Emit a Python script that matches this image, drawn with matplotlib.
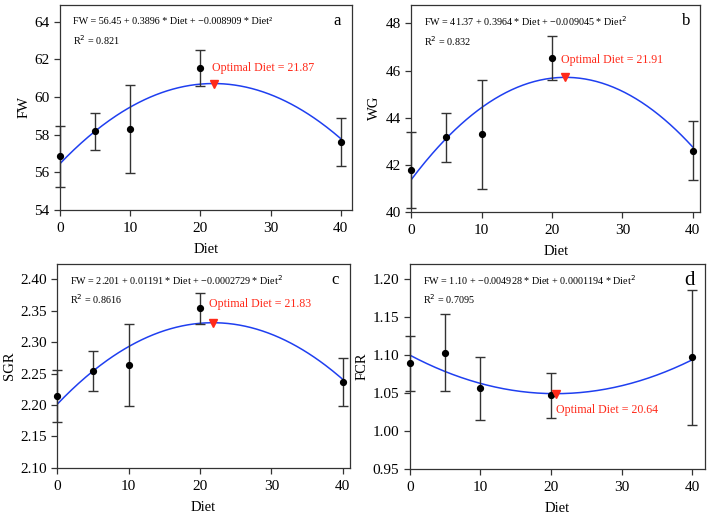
import numpy as np
import matplotlib
matplotlib.use("Agg")
import matplotlib.pyplot as plt
from matplotlib.ticker import FormatStrFormatter

plt.rcParams["font.family"] = ["Liberation Serif", "DejaVu Serif"]

diet = [0, 5, 10, 20, 40]

fw_mean = [56.85, 58.18, 58.29, 61.54, 57.61]
fw_err = [1.62, 0.98, 2.32, 0.94, 1.27]
wg_mean = [41.79, 43.16, 43.29, 46.54, 42.60]
wg_err = [1.61, 1.05, 2.31, 0.95, 1.25]
sgr_mean = [2.214, 2.254, 2.264, 2.354, 2.237]
sgr_err = [0.041, 0.032, 0.065, 0.025, 0.038]
fcr_mean = [1.089, 1.103, 1.056, 1.047, 1.097]
fcr_err = [0.036, 0.051, 0.041, 0.030, 0.089]

# quadratic fit coefficients (a0, a1, a2) and optimum
fw_coef = (56.45, 0.3896, -0.008909)
wg_coef = (41.37, 0.3964, -0.009045)
sgr_coef = (2.201, 0.01191, -0.0002729)
fcr_coef = (1.10, -0.004928, 0.0001194)
optima = [21.87, 21.91, 21.83, 20.64]

panels = [
    dict(ylabel="FW", mean=fw_mean, err=fw_err, coef=fw_coef, opt=optima[0], tag="a",
         eq="FW = 56.45 + 0.3896 * Diet + \u22120.008909 * Diet\u00b2", r2="0.821",
         pos=[0.084, 0.595, 0.409, 0.396], xlim=41.6, ylim=(54, 64.9),
         yticks=[54, 56, 58, 60, 62, 64], fmt="%d", txt=(21.6, 61.55), tagsize=12),
    dict(ylabel="WG", mean=wg_mean, err=wg_err, coef=wg_coef, opt=optima[1], tag="b",
         eq="FW = 41.37 + 0.3964 * Diet + \u22120.009045 * Diet$^2$", r2="0.832",
         pos=[0.576, 0.591, 0.405, 0.400], xlim=41.1, ylim=(40, 48.8),
         yticks=[40, 42, 44, 46, 48], fmt="%d", txt=(21.3, 46.47), tagsize=12),
    dict(ylabel="SGR", mean=sgr_mean, err=sgr_err, coef=sgr_coef, opt=optima[2], tag="c",
         eq="FW = 2.201 + 0.01191 * Diet + \u22120.0002729 * Diet$^2$", r2="0.8616",
         pos=[0.080, 0.097, 0.410, 0.394], xlim=41.0, ylim=(2.10, 2.425),
         yticks=[2.10, 2.15, 2.20, 2.25, 2.30, 2.35, 2.40], fmt="%.2f", txt=(21.25, 2.361),
         tagsize=12),
    dict(ylabel="FCR", mean=fcr_mean, err=fcr_err, coef=fcr_coef, opt=optima[3], tag="d",
         eq="FW = 1.10 + \u22120.004928 * Diet + 0.0001194 * Diet$^2$", r2="0.7095",
         pos=[0.574, 0.095, 0.413, 0.396], xlim=41.75, ylim=(0.95, 1.2207),
         yticks=[0.95, 1.00, 1.05, 1.10, 1.15, 1.20], fmt="%.2f", txt=(20.75, 1.028),
         tagsize=15),
]

fig = plt.figure(figsize=(7.14, 5.18), dpi=100)

for p in panels:
    ax = fig.add_axes(p["pos"])
    a0, a1, a2 = p["coef"]
    xs = np.linspace(0, 40, 200)
    ax.plot(xs, a0 + a1 * xs + a2 * xs ** 2, color="#1f3ff0", lw=1.1, zorder=2)
    ax.errorbar(diet, p["mean"], yerr=p["err"], fmt="o", color="black", ms=4.2,
                ecolor="#333333", elinewidth=1.0, capsize=3.4, capthick=1.0,
                clip_on=False, zorder=3)
    xo = p["opt"]
    ax.plot([xo], [a0 + a1 * xo + a2 * xo ** 2], marker="v", color="#ff2a1a", ms=6,
            zorder=4)
    ax.text(p["txt"][0], p["txt"][1], f"Optimal Diet = {xo:.2f}", color="#ff2a1a",
            fontsize=8.6, ha="left", va="center")
    ax.text(0.045, 0.92, p["eq"], transform=ax.transAxes, fontsize=7.3,
            ha="left", va="center")
    ax.text(0.045, 0.825, "R$^2$ = " + p["r2"], transform=ax.transAxes, fontsize=7.3,
            ha="left", va="center")
    ax.text(0.95, 0.92, p["tag"], transform=ax.transAxes, fontsize=p["tagsize"],
            ha="center", va="center")
    ax.set_xlim(0, p["xlim"])
    ax.set_ylim(*p["ylim"])
    ax.set_xticks([0, 10, 20, 30, 40])
    ax.set_yticks(p["yticks"])
    ax.yaxis.set_major_formatter(FormatStrFormatter(p["fmt"]))
    ax.set_xlabel("Diet", fontsize=10.5, labelpad=5.5)
    ax.set_ylabel(p["ylabel"], fontsize=10.5, labelpad=3)
    ax.tick_params(direction="out", length=4.5, width=0.9, labelsize=11,
                   color="#333333")
    ax.tick_params(axis="x", pad=4.5)
    ax.tick_params(axis="y", pad=3)
    for s in ax.spines.values():
        s.set_color("#333333")
        s.set_linewidth(0.9)

fig.savefig("out.png", dpi=100)
